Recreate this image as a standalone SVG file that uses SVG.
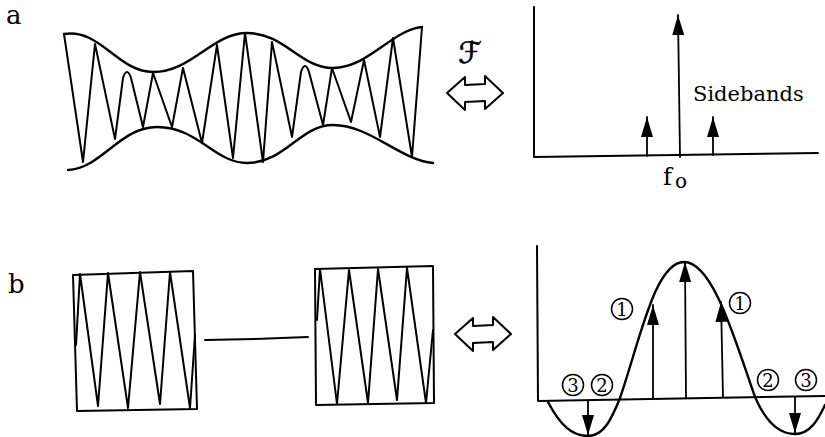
<svg xmlns="http://www.w3.org/2000/svg" width="825" height="437" viewBox="0 0 825 437">
  <style>
    .ln { fill: none; stroke: #000; stroke-width: 2; stroke-linejoin: round; stroke-linecap: round; }
    .th { fill: none; stroke: #000; stroke-width: 2.4; stroke-linecap: round; }
    .thin { fill: none; stroke: #000; stroke-width: 1.8; stroke-linejoin: round; stroke-linecap: round; }
    .lbl { font-family: "DejaVu Serif", "Liberation Serif", serif; fill: #000; }
    .circ { fill: #fff; stroke: #000; stroke-width: 1.5; }
    .dig { font-family: "DejaVu Serif", "Liberation Serif", serif; font-size: 18px; text-anchor: middle; fill: #000; }
  </style>
  <defs>
    <marker id="ah" viewBox="-22 -7 23 14" refX="0" refY="0" markerWidth="23" markerHeight="14" markerUnits="userSpaceOnUse" orient="auto">
      <path d="M0,0 L-20,-6 L-20,6 Z" fill="#000"/>
    </marker>
    <path id="dbl" d="M-28,0 L-10,-16 L-10,-8 L10,-9 L10,-17 L28,0 L10,16 L10,8 L-10,9 L-10,17 Z" fill="#fff" stroke="#000" stroke-width="2" stroke-linejoin="round"/>
  </defs>
  <rect width="825" height="437" fill="#fff"/>

  <!-- Panel labels -->
  <text id="label-a" class="lbl" x="6" y="24" font-size="26">a</text>
  <text id="label-b" class="lbl" x="8" y="293" font-size="26">b</text>

  <!-- Panel a: modulated waveform -->
  <g id="waveform-a">
    <path class="th" d="M64,34 C100,28 118,72 153,72 C192,72 212,33 247,33 C285,33 300,68 333,68 C368,68 392,30 422,27"/>
    <path class="th" d="M68,170 C102,168 120,127 157,127 C198,127 215,163 247,163 C285,163 300,125 333,125 C370,125 400,160 433,163"/>
    <path class="ln" d="M64,34 L83,162 L95,44 L115,139 L123,78 Q127,66 131,78 L143,127 L153,73 L172,127 L183,68 L202,143 L217,45 L233,158 L245,33 L263,162 L272,42 L292,137 L301,72 Q305,60 309,72 L323,125 L332,68 L351,122 L364,60 L380,137 L393,38 L412,157 L422,27"/>
  </g>

  <!-- Fourier transform symbol and double arrow (a) -->
  <g id="transform-a">
    <text x="470" y="63" font-family="DejaVu Sans, Noto Sans CJK JP, sans-serif" font-size="30" text-anchor="middle" fill="#000" stroke="#000" stroke-width="0.6">ℱ</text>
    <use href="#dbl" x="475" y="93"/>
  </g>

  <!-- Panel a: spectrum -->
  <g id="spectrum-a">
    <path class="ln" d="M534,7 L534,157 L818,153"/>
    <text class="lbl" x="693" y="101" font-size="21">Sidebands</text>
    <text class="lbl" x="663" y="185" font-size="24">f</text>
    <text class="lbl" x="675" y="188" font-size="20">o</text>
  </g>

  <!-- Panel b: two wave packets -->
  <g id="packet-b1">
    <polygon class="ln" points="73,275 193,271 197,409 77,411"/>
    <polyline class="ln" points="76,345 80,274 98,406 108,273 128,408 140,272 160,404 170,272 190,408 195,335"/>
  </g>
  <g id="packet-b2">
    <polygon class="ln" points="315,269 433,266 434,403 316,405"/>
    <polyline class="ln" points="317,320 320,269 337,404 349,270 368,403 378,269 397,400 407,268 426,403 433,330"/>
  </g>

  <!-- double arrow (b) -->
  <g id="transform-b">
    <use href="#dbl" x="483" y="334"/>
  </g>

  <!-- Panel b: spectrum -->
  <g id="spectrum-b">
    <path class="ln" d="M537,246 L538,401 L825,396"/>
    <path class="th" d="M548,402 C560,425 572,436 588,436 C604,436 612,418 620,398 C640,340 655,262 684,262 C713,262 735,340 755,397 C765,420 778,434 795,434 C810,434 818,420 825,405"/>
    <circle class="circ" cx="622" cy="309" r="10.5"/>
    <text class="dig" x="622" y="315.5">1</text>
    <circle class="circ" cx="740" cy="303" r="10.5"/>
    <text class="dig" x="740" y="309.5">1</text>
    <circle class="circ" cx="573" cy="385" r="10.5"/>
    <text class="dig" x="573" y="391.5">3</text>
    <circle class="circ" cx="602" cy="385" r="10.5"/>
    <text class="dig" x="602" y="391.5">2</text>
    <circle class="circ" cx="768" cy="380" r="10.5"/>
    <text class="dig" x="768" y="386.5">2</text>
    <circle class="circ" cx="806" cy="380" r="10.5"/>
    <text class="dig" x="806" y="386.5">3</text>
  </g>

  <!-- Connectors: arrows and line -->
  <g id="connectors">
    <path class="ln" d="M205,340 L255,339 L308,337"/>
    <line class="thin" x1="680" y1="157" x2="678" y2="15" marker-end="url(#ah)"/>
    <line class="thin" x1="647" y1="156" x2="647" y2="117" marker-end="url(#ah)"/>
    <line class="thin" x1="713" y1="155" x2="713" y2="117" marker-end="url(#ah)"/>
    <line class="thin" x1="686" y1="398" x2="685" y2="262" marker-end="url(#ah)"/>
    <line class="thin" x1="653" y1="399" x2="653" y2="305" marker-end="url(#ah)"/>
    <line class="thin" x1="723" y1="397" x2="721" y2="302" marker-end="url(#ah)"/>
    <line class="thin" x1="588" y1="401" x2="588" y2="435" marker-end="url(#ah)"/>
    <line class="thin" x1="795" y1="397" x2="795" y2="433" marker-end="url(#ah)"/>
  </g>
</svg>
